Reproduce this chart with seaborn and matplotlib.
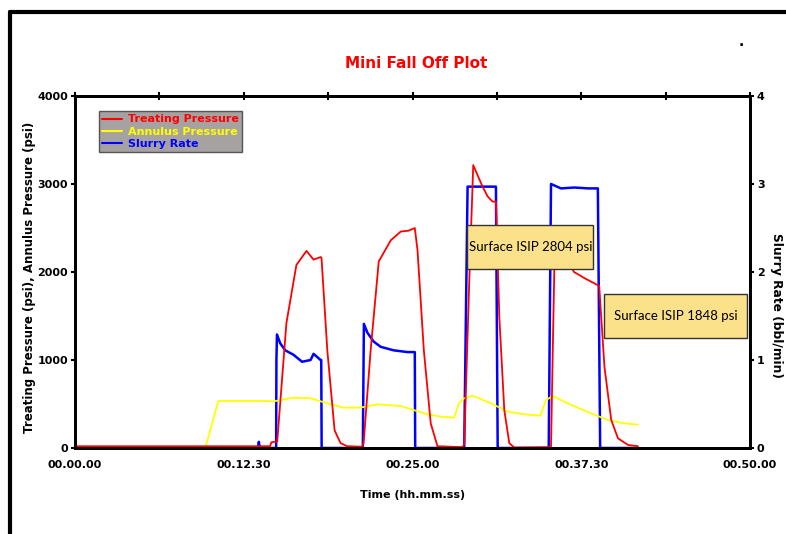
import matplotlib
matplotlib.use("Agg")
import matplotlib.pyplot as plt
import seaborn as sns
import pandas as pd
from matplotlib.patches import Rectangle
from matplotlib.lines import Line2D

# Time in minutes from start of job
treat_t = [0, 14.45, 14.55, 14.98, 15.66, 16.4, 17.15, 17.67, 18.19, 18.26, 18.69, 19.23, 19.67, 20.17,
           21.28, 21.38, 21.9, 22.5, 23.39, 24.13, 24.72, 25.17, 25.37, 25.84, 26.35, 26.85,
           28.7, 28.83, 29.2, 29.5, 29.82, 30.19, 30.56, 30.93, 31.18, 31.43, 31.8, 32.17, 32.54,
           35.26, 35.39, 35.56, 35.88, 36.13, 36.38, 36.97, 37.74, 38.73, 38.83, 39.22, 39.72, 40.22, 40.96, 41.7]
treat_p = [20, 20, 65, 75, 1420, 2080, 2240, 2140, 2170, 2160, 1110, 200, 55, 20,
           15, 60, 1110, 2120, 2360, 2460, 2470, 2500, 2250, 1110, 280, 20,
           10, 40, 1870, 3215, 3100, 2970, 2860, 2800, 2800, 1490, 430, 55, 5,
           10, 1110, 2460, 2490, 2360, 2140, 2000, 1930, 1850, 1840, 920, 320, 110, 35, 20]

ann_t = [9.65, 10.62, 13.73, 14.7, 16.18, 17.45, 18.69, 19.9, 21.16, 22.4, 24.13, 26.11, 27.1, 28.08,
         28.45, 28.83, 29.45, 30.81, 32.05, 33.28, 34.47, 34.89, 35.39, 36.75, 38.23, 39.47, 40.7, 41.7]
ann_p = [0, 534, 534, 530, 572, 565, 508, 458, 460, 496, 477, 383, 356, 345,
         508, 565, 595, 508, 413, 383, 367, 545, 590, 490, 394, 318, 280, 265]

rate_t = [0, 13.55, 13.62, 13.69, 14.9, 14.92, 14.96, 15.2, 15.57, 16.18, 16.82, 17.45, 17.67, 18.19,
          18.24, 18.27, 21.32, 21.4, 21.66, 22.12, 22.64, 23.6, 24.63, 25.17, 25.2,
          28.83, 29.08, 31.18, 31.31, 35.09, 35.26, 36.0, 37.0, 38.0, 38.73, 38.9, 41.7]
rate_v = [0, 0, 0.07, 0, 0, 1.0, 1.29, 1.19, 1.11, 1.06, 0.98, 1.0, 1.07, 1.0,
          1.0, 0, 0, 1.41, 1.31, 1.21, 1.15, 1.11, 1.09, 1.09, 0,
          0, 2.97, 2.97, 0, 0, 3.0, 2.95, 2.96, 2.95, 2.95, 0, 0]

x_ticks = [0, 12.5, 25, 37.5, 50]
x_labels = ['00.00.00', '00.12.30', '00.25.00', '00.37.30', '00.50.00']
isip_labels = ['Surface ISIP 2804 psi', 'Surface ISIP 1848 psi']

sns.set_style("white")
plt.rcParams['font.family'] = ['DejaVu Sans']
plt.rcParams['font.weight'] = 'bold'
for key in ['text.color', 'axes.labelcolor', 'xtick.color', 'ytick.color']:
    plt.rcParams[key] = 'black'

fig = plt.figure(figsize=(7.86, 5.34), dpi=100)
ax = fig.add_axes([75 / 786, 1 - 448 / 534, 675 / 786, 352 / 534])
ax2 = ax.twinx()

treat = pd.DataFrame({'t': treat_t, 'p': treat_p})
ann = pd.DataFrame({'t': ann_t, 'p': ann_p})
rate = pd.DataFrame({'t': rate_t, 'r': rate_v})

sns.lineplot(data=ann, x='t', y='p', ax=ax, color='#FFFF00', lw=1.3, estimator=None, sort=False)
sns.lineplot(data=rate, x='t', y='r', ax=ax2, color='#0000FF', lw=1.8, estimator=None, sort=False)
sns.lineplot(data=treat, x='t', y='p', ax=ax, color='#FF0000', lw=1.3, estimator=None, sort=False)
# red/yellow axis drawn above the blue one
ax.set_zorder(1)
ax.patch.set_visible(False)
ax2.set_zorder(0)

ax.set_xlim(0, 50)
ax.set_ylim(0, 4000)
ax2.set_ylim(0, 4)
ax.set_xticks(x_ticks)
ax.set_xticklabels(x_labels)
ax.set_xticks([6.25, 18.75, 31.25, 43.75], minor=True)
ax.set_yticks([0, 1000, 2000, 3000, 4000])
ax2.set_yticks([0, 1, 2, 3, 4])

for a in (ax, ax2):
    for s in a.spines.values():
        s.set_linewidth(2)
        s.set_color('black')
ax.tick_params(axis='x', which='both', direction='inout', length=6, width=1.5, top=True,
               labelsize=8, pad=6)
ax.tick_params(axis='y', direction='out', length=3, width=1.5, labelsize=8, pad=2)
ax2.tick_params(axis='y', direction='out', length=3, width=1.5, labelsize=8, pad=2)
for lab in ax.get_xticklabels() + ax.get_yticklabels() + ax2.get_yticklabels():
    lab.set_fontweight('bold')

ax.set_xlabel('Time (hh.mm.ss)', fontsize=8, fontweight='bold', labelpad=14)
ax.set_ylabel('Treating Pressure (psi), Annulus Pressure (psi)', fontsize=8.5, fontweight='bold')
ax.yaxis.set_label_coords(-0.058, 0.485)
ax2.set_ylabel('Slurry Rate (bbl/min)', fontsize=8.8, fontweight='bold', rotation=270, va='center')
ax2.yaxis.set_label_coords(1.04, 0.405)

handles = [Line2D([], [], color='#FF0000', lw=1.5),
           Line2D([], [], color='#FFFF00', lw=1.5),
           Line2D([], [], color='#0000FF', lw=1.5)]
leg = ax.legend(handles, ['Treating Pressure', 'Annulus Pressure', 'Slurry Rate'],
                loc='upper left', bbox_to_anchor=(0.035, 0.957), fontsize=8,
                frameon=True, fancybox=False, facecolor='#A6A2A2', edgecolor='#555555',
                framealpha=1, handlelength=1.8, handletextpad=0.5, borderpad=0.3,
                labelspacing=0.2, borderaxespad=0)
for txt, c in zip(leg.get_texts(), ['#FF0000', '#FFFF00', '#0000FF']):
    txt.set_color(c)
    txt.set_fontweight('bold')

# ISIP annotation boxes
for (bx, by, bw), label in zip([(0.581, 0.5085, 0.187), (0.784, 0.3125, 0.212)], isip_labels):
    ax.add_patch(Rectangle((bx, by), bw, 0.125, transform=ax.transAxes, facecolor='#FBE18A',
                           edgecolor='#333333', lw=1, zorder=5))
    ax.text(bx + bw / 2, by + 0.0625, label, transform=ax.transAxes, ha='center', va='center',
            fontsize=9.5, fontweight='normal', family='Lato', color='black', zorder=6)

fig.text(0.529, 0.882, 'Mini Fall Off Plot', color='#FF0000', fontsize=11, fontweight='bold',
         ha='center', va='center')
fig.text(741 / 786, 1 - 49 / 534, '.', fontsize=10, fontweight='bold', ha='center', va='bottom')

# outer frame
fig.add_artist(Line2D([10 / 786, 1], [1 - 12 / 534, 1 - 12 / 534], color='black', lw=3,
                      transform=fig.transFigure))
fig.add_artist(Line2D([10 / 786, 10 / 786], [0, 1 - 12 / 534], color='black', lw=3,
                      transform=fig.transFigure))

fig.savefig('out.png', dpi=100)
